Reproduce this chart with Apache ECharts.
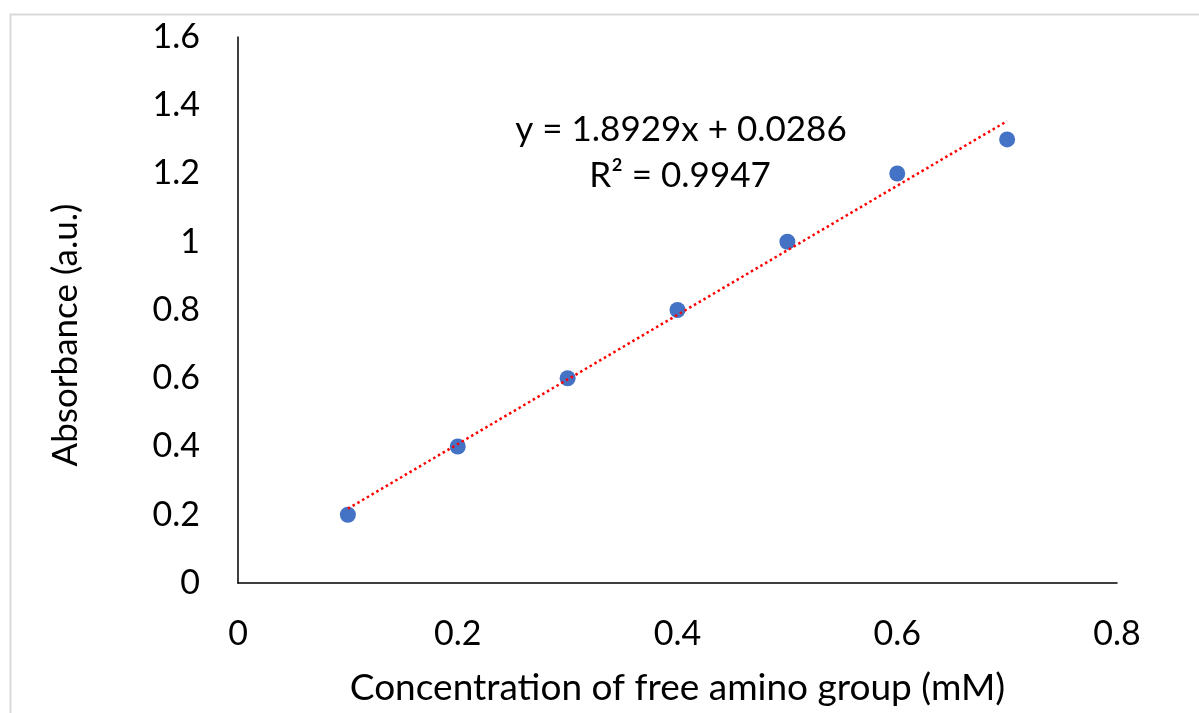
<!DOCTYPE html>
<html>
<head>
<meta charset="utf-8">
<script src="https://cdn.jsdelivr.net/npm/echarts@6/dist/echarts.min.js"></script>
<style>
  html, body { margin: 0; padding: 0; background: #fff; }
  #main { width: 1199px; height: 713px; }
</style>
</head>
<body>
<div id="main"></div>
<script>
// measured points
var concentration = [0.1, 0.2, 0.3, 0.4, 0.5, 0.6, 0.7];
var absorbance = [0.2, 0.4, 0.6, 0.8, 1.0, 1.2, 1.3];

// linear fit shown on the chart
var slope = 1.8929;
var intercept = 0.0286;
var rSquared = 0.9947;
var trendX = [0.1, 0.7];

var dom = document.getElementById('main');
var myChart = echarts.init(dom, null, { renderer: 'canvas' });

var points = concentration.map(function (x, i) {
    return [x, absorbance[i]];
});
var trend = trendX.map(function (x) {
    return [x, slope * x + intercept];
});

var font = 'Lato, "Open Sans", sans-serif';

var option = {
    backgroundColor: '#fff',
    animation: false,
    grid: {
        left: 238,
        right: 82,
        top: 37,
        bottom: 130
    },
    xAxis: {
        type: 'value',
        min: 0,
        max: 0.8,
        interval: 0.2,
        name: 'Concentration of free amino group (mM)',
        nameLocation: 'middle',
        nameGap: 87,
        nameTextStyle: { color: '#000', fontSize: 37, fontFamily: font },
        axisLine: { lineStyle: { color: '#000', width: 1.5 } },
        axisTick: { show: false },
        splitLine: { show: false },
        axisLabel: { color: '#000', fontSize: 34, fontFamily: font, margin: 34 }
    },
    yAxis: {
        type: 'value',
        min: 0,
        max: 1.6,
        interval: 0.2,
        name: 'Absorbance (a.u.)',
        nameLocation: 'middle',
        nameGap: 155,
        nameTextStyle: { color: '#000', fontSize: 35, fontFamily: font, padding: [0, 50, 0, 0] },
        axisLine: { show: true, lineStyle: { color: '#000', width: 1.5 } },
        axisTick: { show: false },
        splitLine: { show: false },
        axisLabel: { color: '#000', fontSize: 34, fontFamily: font, margin: 38 }
    },
    graphic: [
        {
            type: 'rect',
            left: 8,
            top: 12,
            shape: { width: 1250, height: 800 },
            style: { fill: 'none', stroke: '#d9d9d9', lineWidth: 2 },
            silent: true,
            z: -1
        },
        {
            type: 'text',
            x: 681,
            y: 130,
            style: {
                text: 'y = ' + slope + 'x + ' + intercept,
                fill: '#000',
                font: '35px ' + font,
                textAlign: 'center',
                textVerticalAlign: 'middle'
            }
        },
        {
            type: 'text',
            x: 680,
            y: 176,
            style: {
                text: 'R² = ' + rSquared,
                fill: '#000',
                font: '35px ' + font,
                textAlign: 'center',
                textVerticalAlign: 'middle'
            }
        }
    ],
    series: [
        {
            name: 'Trendline',
            type: 'line',
            data: trend,
            symbol: 'none',
            lineStyle: { color: '#ff0000', width: 2.5, type: [2.5, 3] },
            z: 3
        },
        {
            name: 'Absorbance',
            type: 'scatter',
            data: points,
            symbolSize: 16,
            itemStyle: { color: '#4472c4', opacity: 1 },
            z: 2
        }
    ]
};

myChart.setOption(option);
window.addEventListener('resize', myChart.resize);
</script>
</body>
</html>
